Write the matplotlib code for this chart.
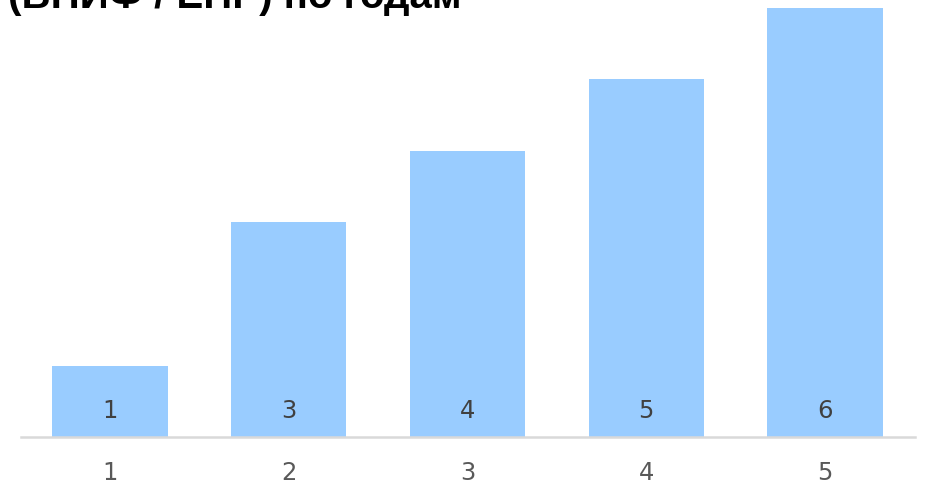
import matplotlib
matplotlib.use("Agg")
import matplotlib.pyplot as plt

categories = ["1", "2", "3", "4", "5"]
values = [1, 3, 4, 5, 6]
bar_labels = ["1", "3", "4", "5", "6"]
title = "(ВНИФ / ЕПР) по годам"

fig = plt.figure(figsize=(9.31, 4.86), dpi=100)
ax = fig.add_axes([20.5 / 931, 49 / 486, 894 / 931, 429 / 486])

x = list(range(1, len(categories) + 1))
bars = ax.bar(x, values, width=0.645, color="#99CCFF", clip_on=False)
for xi, lab in zip(x, bar_labels):
    ax.text(xi, 26 / 71.5, lab, ha="center", va="center", fontsize=17.5,
            color="#404040", family="DejaVu Sans")

ax.set_xlim(0.5, 5.5)
ax.set_ylim(0, 6)
ax.set_xticks(x)
ax.set_xticklabels(categories, fontsize=17.5, color="#595959")
ax.tick_params(axis="x", length=0, pad=17)
ax.set_yticks([])
for s in ["top", "right", "left"]:
    ax.spines[s].set_visible(False)
ax.spines["bottom"].set_color("#D9D9D9")
ax.spines["bottom"].set_linewidth(1.8)

fig.text(8 / 931, 1 - 8 / 486, title, fontsize=29, fontweight="bold",
         family="Liberation Sans", color="#000000", ha="left", va="baseline")

fig.savefig("out.png", dpi=100)
